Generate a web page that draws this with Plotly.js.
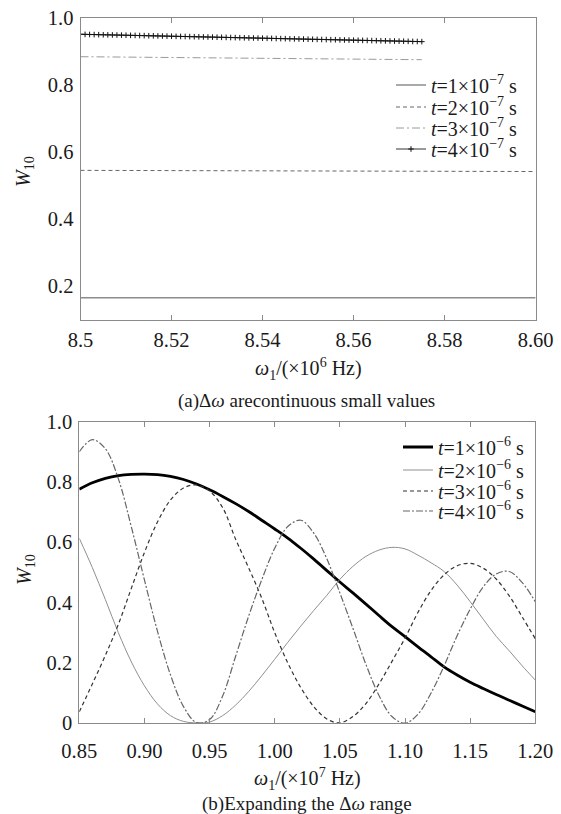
<!DOCTYPE html>
<html>
<head>
<meta charset="utf-8">
<script src="https://cdn.plot.ly/plotly-3.0.1.min.js"></script>
<style>
html,body{margin:0;padding:0;background:#fff;}
#chart{width:561px;height:814px;}
</style>
</head>
<body>
<div id="chart"></div>
<script>
// ---------- DATA: panel (a) ----------
const topLegend = ['<i>t</i>=1×10<sup>−7</sup> s', '<i>t</i>=2×10<sup>−7</sup> s', '<i>t</i>=3×10<sup>−7</sup> s', '<i>t</i>=4×10<sup>−7</sup> s'];
const topX1 = [8.50, 8.52, 8.54, 8.56, 8.58, 8.60];
const topY1 = [0.165, 0.165, 0.165, 0.165, 0.165, 0.165];
const topX2 = [8.50, 8.52, 8.54, 8.56, 8.575, 8.58, 8.60];
const topY2 = [0.5455, 0.5452, 0.5449, 0.5446, 0.5443, 0.5425, 0.5420];
const topX3 = [8.50, 8.52, 8.54, 8.56, 8.575];
const topY3 = [0.885, 0.883, 0.880, 0.878, 0.876];
const topX4 = [8.500, 8.501, 8.502, 8.503, 8.504, 8.505, 8.506, 8.507, 8.508, 8.509,
  8.510, 8.511, 8.512, 8.513, 8.514, 8.515, 8.516, 8.517, 8.518, 8.519,
  8.520, 8.521, 8.522, 8.523, 8.524, 8.525, 8.526, 8.527, 8.528, 8.529,
  8.530, 8.531, 8.532, 8.533, 8.534, 8.535, 8.536, 8.537, 8.538, 8.539,
  8.540, 8.541, 8.542, 8.543, 8.544, 8.545, 8.546, 8.547, 8.548, 8.549,
  8.550, 8.551, 8.552, 8.553, 8.554, 8.555, 8.556, 8.557, 8.558, 8.559,
  8.560, 8.561, 8.562, 8.563, 8.564, 8.565, 8.566, 8.567, 8.568, 8.569,
  8.570, 8.571, 8.572, 8.573, 8.574, 8.575];
const topY4 = [0.9520, 0.9517, 0.9514, 0.9511, 0.9508, 0.9505, 0.9502, 0.9499, 0.9497, 0.9494,
  0.9491, 0.9488, 0.9485, 0.9482, 0.9479, 0.9476, 0.9473, 0.9470, 0.9467, 0.9464,
  0.9461, 0.9458, 0.9455, 0.9453, 0.9450, 0.9447, 0.9444, 0.9441, 0.9438, 0.9435,
  0.9432, 0.9429, 0.9426, 0.9423, 0.9420, 0.9417, 0.9414, 0.9411, 0.9409, 0.9406,
  0.9403, 0.9400, 0.9397, 0.9394, 0.9391, 0.9388, 0.9385, 0.9382, 0.9379, 0.9376,
  0.9373, 0.9370, 0.9367, 0.9365, 0.9362, 0.9359, 0.9356, 0.9353, 0.9350, 0.9347,
  0.9344, 0.9341, 0.9338, 0.9335, 0.9332, 0.9329, 0.9326, 0.9323, 0.9321, 0.9318,
  0.9315, 0.9312, 0.9309, 0.9306, 0.9303, 0.9300];
const topXTicks = [8.50, 8.52, 8.54, 8.56, 8.58, 8.60];
const topXText = ['8.5', '8.52', '8.54', '8.56', '8.58', '8.60'];
const topYTicks = [0.2, 0.4, 0.6, 0.8, 1.0];
const topYText = ['0.2', '0.4', '0.6', '0.8', '1.0'];

// ---------- DATA: panel (b) ----------
const botLegend = ['<i>t</i>=1×10<sup>−6</sup> s', '<i>t</i>=2×10<sup>−6</sup> s', '<i>t</i>=3×10<sup>−6</sup> s', '<i>t</i>=4×10<sup>−6</sup> s'];
const botX = [0.85, 0.86, 0.87, 0.88, 0.89, 0.90, 0.91, 0.92, 0.93, 0.94, 0.95, 0.96,
  0.97, 0.98, 0.99, 1.00, 1.01, 1.02, 1.03, 1.04, 1.05, 1.06, 1.07, 1.08,
  1.09, 1.10, 1.11, 1.12, 1.13, 1.14, 1.15, 1.16, 1.17, 1.18, 1.19, 1.20];
const botY1 = [0.776, 0.797, 0.812, 0.821, 0.825, 0.826, 0.824, 0.818, 0.808, 0.793, 0.774, 0.752,
  0.728, 0.702, 0.673, 0.644, 0.614, 0.580, 0.544, 0.506, 0.468, 0.432, 0.395, 0.357,
  0.320, 0.287, 0.253, 0.220, 0.187, 0.160, 0.136, 0.115, 0.095, 0.076, 0.057, 0.038];
const botY2 = [0.613, 0.516, 0.410, 0.300, 0.203, 0.124, 0.064, 0.025, 0.006, 0.001, 0.004, 0.025,
  0.060, 0.105, 0.157, 0.212, 0.268, 0.322, 0.374, 0.424, 0.477, 0.520, 0.553, 0.574,
  0.583, 0.578, 0.557, 0.532, 0.503, 0.458, 0.403, 0.345, 0.288, 0.240, 0.190, 0.143];
const botY3 = [0.038, 0.130, 0.225, 0.328, 0.448, 0.566, 0.667, 0.740, 0.780, 0.790, 0.770, 0.715,
  0.610, 0.515, 0.415, 0.300, 0.200, 0.118, 0.055, 0.014, 0.001, 0.022, 0.065, 0.130,
  0.205, 0.282, 0.368, 0.440, 0.492, 0.522, 0.530, 0.514, 0.478, 0.422, 0.352, 0.280];
const botY4 = [0.900, 0.940, 0.910, 0.810, 0.650, 0.475, 0.305, 0.160, 0.055, 0.002, 0.012, 0.090,
  0.222, 0.355, 0.475, 0.580, 0.652, 0.673, 0.630, 0.545, 0.432, 0.315, 0.195, 0.092,
  0.022, 0.000, 0.030, 0.100, 0.190, 0.290, 0.378, 0.452, 0.495, 0.503, 0.466, 0.403];
const botXTicks = [0.85, 0.90, 0.95, 1.00, 1.05, 1.10, 1.15, 1.20];
const botXText = ['0.85', '0.90', '0.95', '1.00', '1.05', '1.10', '1.15', '1.20'];
const botYTicks = [0, 0.2, 0.4, 0.6, 0.8, 1.0];
const botYText = ['0', '0.2', '0.4', '0.6', '0.8', '1.0'];

// minor tick positions
const topLeftMinor = [0.3, 0.5, 0.7, 0.9];
const topRightMinor = [0.2, 0.3, 0.4, 0.5, 0.6, 0.7, 0.8, 0.9];
const botLeftMinor = [0.1, 0.3, 0.5, 0.7, 0.9];
const botRightMinor = [0.1, 0.2, 0.3, 0.4, 0.5, 0.6, 0.7, 0.8, 0.9];

// ---------- STYLE ----------
const FONT = 'Liberation Serif, Times New Roman, serif';
const AX = '#8a8a8a';
const TXT = '#1a1a1a';
const W = 561, H = 814;
const px = v => v / W;
const py = v => 1 - v / H;

const traces = [
  {x: topX1, y: topY1, xaxis: 'x', yaxis: 'y', mode: 'lines', name: topLegend[0], legend: 'legend',
   line: {color: '#8c8c8c', width: 1.5}},
  {x: topX2, y: topY2, xaxis: 'x', yaxis: 'y', mode: 'lines', name: topLegend[1], legend: 'legend2',
   line: {color: '#666', width: 1, dash: '4px,3px'}},
  {x: topX3, y: topY3, xaxis: 'x', yaxis: 'y', mode: 'lines', name: topLegend[2], legend: 'legend3',
   line: {color: '#9a9a9a', width: 1, dash: '8px,3px,2px,3px'}},
  {x: topX4, y: topY4, xaxis: 'x', yaxis: 'y', mode: 'lines+markers', name: topLegend[3], legend: 'legend4',
   line: {color: '#333', width: 1}, marker: {symbol: 'cross-thin', size: 4, line: {color: '#111', width: 1}}},

  {x: botX, y: botY1, xaxis: 'x2', yaxis: 'y2', mode: 'lines', name: botLegend[0], legend: 'legend5',
   line: {color: '#000', width: 2.8, shape: 'spline'}},
  {x: botX, y: botY2, xaxis: 'x2', yaxis: 'y2', mode: 'lines', name: botLegend[1], legend: 'legend6',
   line: {color: '#8f8f8f', width: 1, shape: 'spline'}},
  {x: botX, y: botY3, xaxis: 'x2', yaxis: 'y2', mode: 'lines', name: botLegend[2], legend: 'legend7',
   line: {color: '#333', width: 1.2, dash: '4px,3px', shape: 'spline'}},
  {x: botX, y: botY4, xaxis: 'x2', yaxis: 'y2', mode: 'lines', name: botLegend[3], legend: 'legend8',
   line: {color: '#666', width: 1.2, dash: '7px,2px,2px,2px', shape: 'spline'}}
];

function xAxis(domain, range, vals, text, anchor, standoff) {
  return {domain: domain, range: range, anchor: anchor, autorange: false,
    tickmode: 'array', tickvals: vals, ticktext: text,
    ticks: 'inside', ticklen: 5, tickwidth: 1, tickcolor: AX,
    showline: true, linecolor: AX, linewidth: 1, mirror: 'ticks',
    showgrid: false, zeroline: false, ticklabelstandoff: standoff,
    tickfont: {family: FONT, size: 20.5, color: TXT}};
}
function yAxis(domain, range, vals, text, anchor) {
  return {domain: domain, range: range, anchor: anchor, autorange: false,
    tickmode: 'array', tickvals: vals, ticktext: text,
    ticks: '', showline: true, linecolor: AX, linewidth: 1, mirror: true,
    showgrid: false, zeroline: false, ticklabelstandoff: 2,
    tickfont: {family: FONT, size: 20.5, color: TXT}};
}
function minorY(over, anchor, side, range, vals) {
  return {overlaying: over, anchor: anchor, side: side, range: range, autorange: false,
    tickmode: 'array', tickvals: vals, showticklabels: false,
    ticks: 'inside', ticklen: 5, tickwidth: 1, tickcolor: AX,
    showline: false, showgrid: false, zeroline: false, fixedrange: true};
}
function leg(xp, yp) {
  return {x: px(xp), y: py(yp), xanchor: 'left', yanchor: 'middle',
    bgcolor: 'rgba(0,0,0,0)', borderwidth: 0,
    font: {family: FONT, size: 20, color: TXT}};
}
function ann(text, xp, yp, angle, size) {
  return {text: text, x: px(xp), y: py(yp), xref: 'paper', yref: 'paper',
    xanchor: 'center', yanchor: 'middle', showarrow: false, textangle: angle || 0,
    font: {family: FONT, size: size || 20, color: TXT}};
}

const topXD = [px(80.5), px(535.6)], topYD = [py(319.5), py(18.2)];
const botXD = [px(79.3), px(535.3)], botYD = [py(723.2), py(421.6)];

const layout = {
  width: W, height: H,
  margin: {l: 0, r: 0, t: 0, b: 0},
  paper_bgcolor: '#fff', plot_bgcolor: '#fff',
  font: {family: FONT, size: 20, color: TXT},
  showlegend: true,
  xaxis: xAxis(topXD, [8.5, 8.6], topXTicks, topXText, 'y', 2),
  yaxis: yAxis(topYD, [0.1, 1.0], topYTicks, topYText, 'x'),
  yaxis3: minorY('y', 'x', 'left', [0.1, 1.0], topLeftMinor),
  yaxis4: minorY('y', 'x', 'right', [0.1, 1.0], topRightMinor),
  xaxis2: xAxis(botXD, [0.85, 1.20], botXTicks, botXText, 'y2', 9),
  yaxis2: yAxis(botYD, [0, 1.0], botYTicks, botYText, 'x2'),
  yaxis5: minorY('y2', 'x2', 'left', [0, 1.0], botLeftMinor),
  yaxis6: minorY('y2', 'x2', 'right', [0, 1.0], botRightMinor),
  legend: leg(391, 85), legend2: leg(391, 107), legend3: leg(391, 128), legend4: leg(391, 149),
  legend5: leg(398, 447), legend6: leg(398, 470), legend7: leg(398, 491), legend8: leg(398, 511),
  annotations: [
    ann('<i>ω</i><sub>1</sub>/(×10<sup>6</sup> Hz)', 308, 369),
    ann('(a)Δ<i>ω</i> arecontinuous small values', 306, 401, 0, 19),
    ann('<i>W</i><sub>10</sub>', 25, 172, -90),
    ann('<i>ω</i><sub>1</sub>/(×10<sup>7</sup> Hz)', 307, 779),
    ann('(b)Expanding the Δ<i>ω</i> range', 307, 804, 0, 19),
    ann('<i>W</i><sub>10</sub>', 25, 570, -90)
  ]
};

Plotly.newPlot('chart', traces, layout, {staticPlot: true, displayModeBar: false});
</script>
</body>
</html>
